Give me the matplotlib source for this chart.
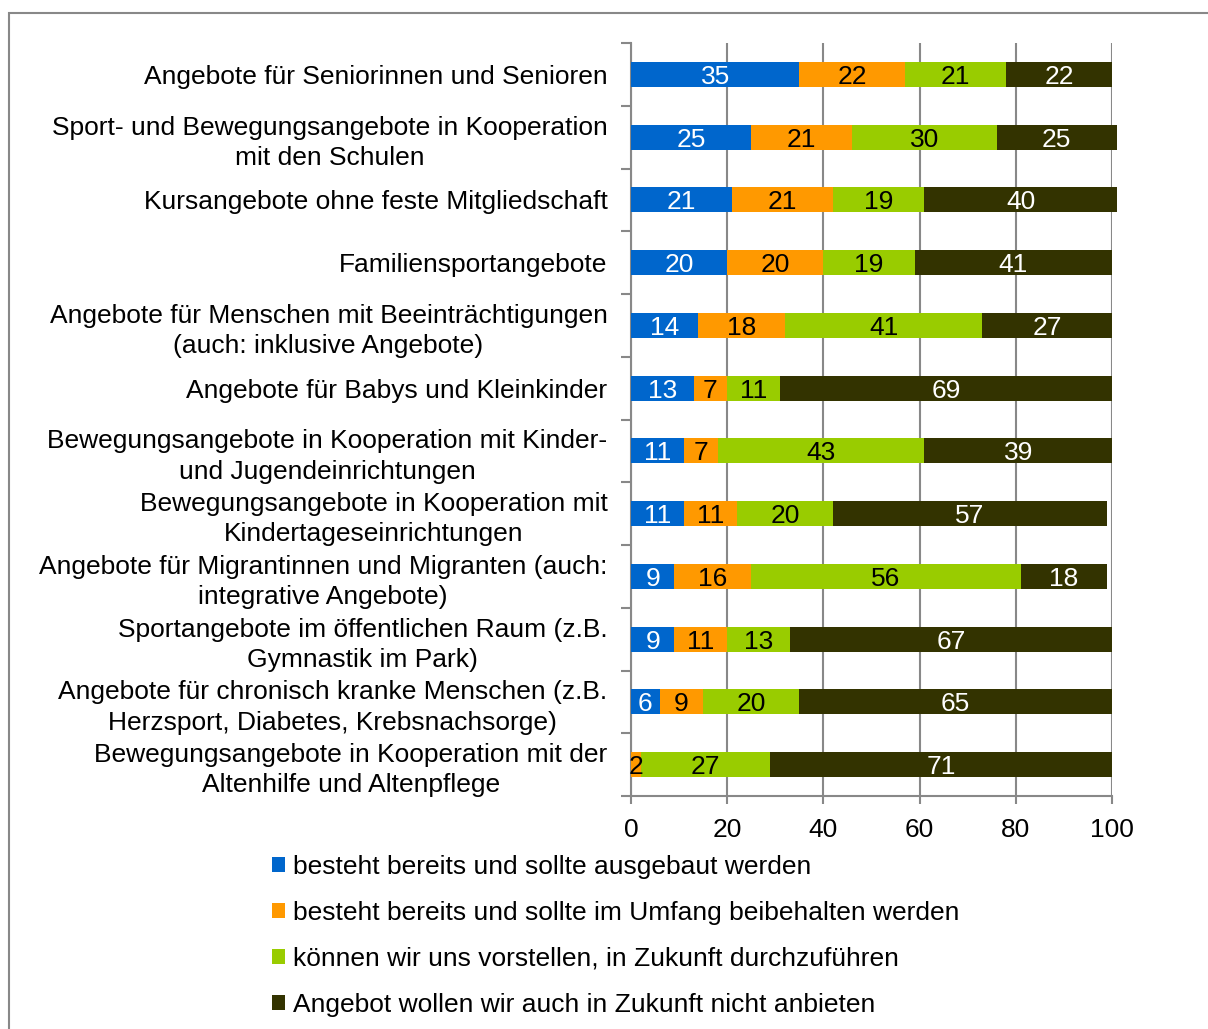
import matplotlib
matplotlib.use("Agg")
import matplotlib.pyplot as plt
import numpy as np
from matplotlib.patches import Rectangle

plt.rcParams['font.family'] = ['Liberation Sans', 'DejaVu Sans']

categories = [
    "Angebote für Seniorinnen und Senioren",
    "Sport- und Bewegungsangebote in Kooperation\nmit den Schulen",
    "Kursangebote ohne feste Mitgliedschaft",
    "Familiensportangebote",
    "Angebote für Menschen mit Beeinträchtigungen\n(auch: inklusive Angebote)",
    "Angebote für Babys und Kleinkinder",
    "Bewegungsangebote in Kooperation mit Kinder-\nund Jugendeinrichtungen",
    "Bewegungsangebote in Kooperation mit\nKindertageseinrichtungen",
    "Angebote für Migrantinnen und Migranten (auch:\nintegrative Angebote)",
    "Sportangebote im öffentlichen Raum (z.B.\nGymnastik im Park)",
    "Angebote für chronisch kranke Menschen (z.B.\nHerzsport, Diabetes, Krebsnachsorge)",
    "Bewegungsangebote in Kooperation mit der\nAltenhilfe und Altenpflege",
]
series_names = [
    "besteht bereits und sollte ausgebaut werden",
    "besteht bereits und sollte im Umfang beibehalten werden",
    "können wir uns vorstellen, in Zukunft durchzuführen",
    "Angebot wollen wir auch in Zukunft nicht anbieten",
]
ausbauen = [35, 25, 21, 20, 14, 13, 11, 11, 9, 9, 6, 0]
beibehalten = [22, 21, 21, 20, 18, 7, 7, 11, 16, 11, 9, 2]
vorstellen = [21, 30, 19, 19, 41, 11, 43, 20, 56, 13, 20, 27]
nicht = [22, 25, 40, 41, 27, 69, 39, 57, 18, 67, 65, 71]
xticks = [0, 20, 40, 60, 80, 100]

colors = ["#0066CC", "#FF9900", "#99CC00", "#333300"]
text_colors = ["white", "black", "black", "white"]

W, H = 1208, 1029
fig = plt.figure(figsize=(W / 100, H / 100), dpi=100)
ax = fig.add_axes([631 / W, 1 - 796 / H, (1112 - 631) / W, (796 - 43) / H])

fs = 19
y = np.arange(len(categories))
left = np.zeros(len(categories))
series = [ausbauen, beibehalten, vorstellen, nicht]
handles = []
for vals, c, tc, name in zip(series, colors, text_colors, series_names):
    vals = np.array(vals, dtype=float)
    b = ax.barh(y, vals, left=left, height=0.4, color=c, zorder=3, label=name,
                clip_on=False)
    handles.append(b)
    for yi, (l, v) in enumerate(zip(left, vals)):
        if v > 0:
            ax.text(l + v / 2, yi, f"{int(v)}", ha="center", va="center_baseline",
                    color=tc, fontsize=fs, zorder=4, clip_on=False)
    left = left + vals

ax.set_ylim(len(categories) - 0.5, -0.5)
ax.set_xlim(0, 100)
ax.set_yticks(y)
ax.set_yticklabels(categories, fontsize=fs, multialignment="center", linespacing=1.33)
ax.tick_params(axis="y", which="major", length=0, pad=17)
ax.set_yticks(np.arange(-0.5, len(categories)), minor=True)
ax.tick_params(axis="y", which="minor", length=7, color="#888888", width=1.5)
ax.set_xticks(xticks)
ax.set_xticklabels([str(t) for t in xticks], fontsize=fs)
ax.tick_params(axis="x", length=6, color="#888888", width=1.5, pad=10)
for s in ["top", "right"]:
    ax.spines[s].set_visible(False)
for s in ["left", "bottom"]:
    ax.spines[s].set_color("#888888")
    ax.spines[s].set_linewidth(1.5)
ax.grid(axis="x", color="#888888", linewidth=1.5, zorder=0)
ax.set_axisbelow(True)

fig.legend(handles=handles, labels=series_names, loc="upper left",
           bbox_to_anchor=(272 / W, 1 - 855 / H), frameon=False, fontsize=fs,
           handlelength=0.5, handleheight=0.5, handletextpad=0.28,
           labelspacing=0.83, borderaxespad=0, borderpad=0)

fig.patches.append(Rectangle((9 / W, -0.1), 2, 1.1 - 13 / H, transform=fig.transFigure,
                             fill=False, edgecolor="#888888", linewidth=1.5))

fig.savefig("out.png", dpi=100)
